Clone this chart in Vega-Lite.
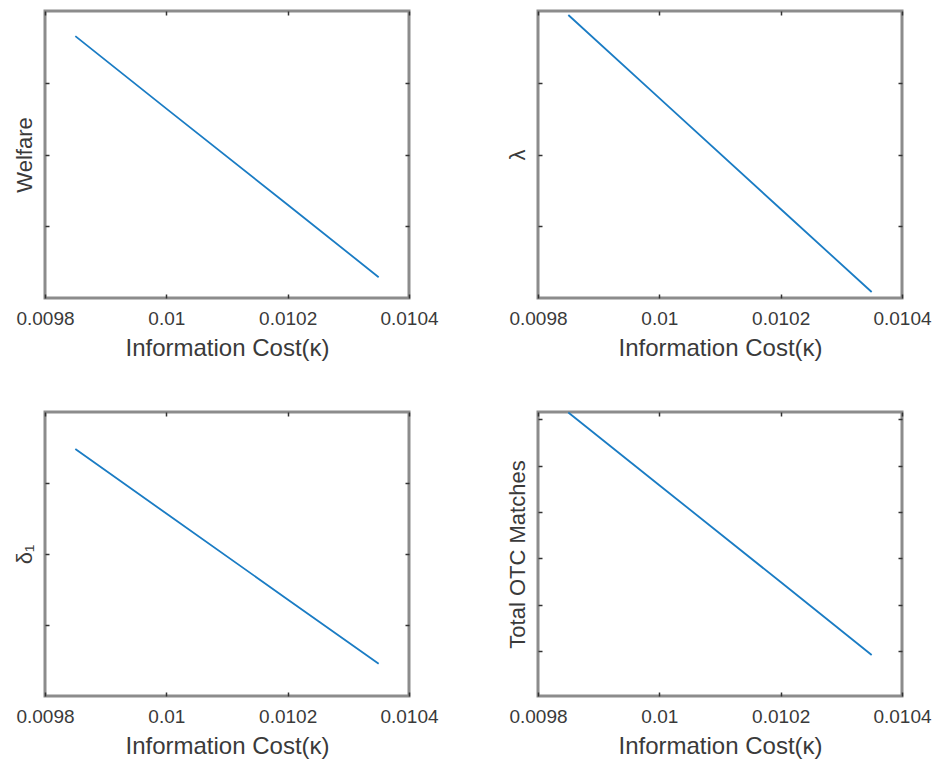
{
  "$schema": "https://vega.github.io/schema/vega-lite/v6.json",
  "padding": {"left": 11, "top": 8, "right": 5, "bottom": 5},
  "background": "white",
  "config": {
    "font": "Liberation Sans",
    "view": {"stroke": "#8c8c8c", "strokeWidth": 3},
    "axis": {
      "domain": false, "grid": false, "ticks": true, "tickSize": -4, "tickColor": "#333333", "tickWidth": 1.5,
      "labelFontSize": 19, "labelColor": "#3a3a3a", "labelPadding": 15, "labelFlush": false, "labelOverlap": false,
      "titleFontSize": 24, "titleFontWeight": "normal", "titleColor": "#3a3a3a", "titlePadding": 8
    },
    "axisY": {"titleFontSize": 22, "titlePadding": 8},
    "line": {"color": "#1a7cc4", "strokeWidth": 1.8}
  },
  "datasets": {
    "welfare": [
      {"x": 0.00985, "y": 3.65}, {"x": 0.0100, "y": 2.64}, {"x": 0.0102, "y": 1.30}, {"x": 0.01035, "y": 0.29}
    ],
    "lambda": [
      {"x": 0.00985, "y": 3.944}, {"x": 0.0100, "y": 2.786}, {"x": 0.0102, "y": 1.24}, {"x": 0.01035, "y": 0.084}
    ],
    "delta": [
      {"x": 0.00985, "y": 3.48}, {"x": 0.0100, "y": 2.57}, {"x": 0.0102, "y": 1.36}, {"x": 0.01035, "y": 0.455}
    ],
    "otc": [
      {"x": 0.00985, "y": 6.15}, {"x": 0.0100, "y": 4.58}, {"x": 0.0102, "y": 2.49}, {"x": 0.01035, "y": 0.915}
    ]
  },
  "columns": 2,
  "bounds": "flush",
  "spacing": {"row": 114, "column": 129},
  "concat": [
    {
      "width": 364, "height": 287,
      "data": {"name": "welfare"},
      "layer": [
        {"mark": {"type": "line"}, "encoding": {
          "x": {"field": "x", "type": "quantitative", "scale": {"domain": [0.0098, 0.0104], "nice": false, "zero": false}, "axis": {"values": [0.0098, 0.01, 0.0102, 0.0104], "format": "~f", "title": "Information Cost(κ)"}},
          "y": {"field": "y", "type": "quantitative", "scale": {"domain": [0, 4], "nice": false, "zero": false}, "axis": {"values": [1, 2, 3], "labels": false, "title": "Welfare"}}
        }},
        {"mark": {"type": "line", "opacity": 0}, "encoding": {
          "x": {"field": "x", "type": "quantitative", "axis": {"orient": "top", "values": [0.0098, 0.01, 0.0102, 0.0104], "labels": false, "title": null}},
          "y": {"field": "y", "type": "quantitative", "axis": {"orient": "right", "values": [1, 2, 3], "labels": false, "title": null}}
        }}
      ],
      "resolve": {"axis": {"x": "independent", "y": "independent"}}
    },
    {
      "width": 364, "height": 287,
      "data": {"name": "lambda"},
      "layer": [
        {"mark": {"type": "line"}, "encoding": {
          "x": {"field": "x", "type": "quantitative", "scale": {"domain": [0.0098, 0.0104], "nice": false, "zero": false}, "axis": {"values": [0.0098, 0.01, 0.0102, 0.0104], "format": "~f", "title": "Information Cost(κ)"}},
          "y": {"field": "y", "type": "quantitative", "scale": {"domain": [0, 4], "nice": false, "zero": false}, "axis": {"values": [1, 2, 3], "labels": false, "title": "λ"}}
        }},
        {"mark": {"type": "line", "opacity": 0}, "encoding": {
          "x": {"field": "x", "type": "quantitative", "axis": {"orient": "top", "values": [0.0098, 0.01, 0.0102, 0.0104], "labels": false, "title": null}},
          "y": {"field": "y", "type": "quantitative", "axis": {"orient": "right", "values": [1, 2, 3], "labels": false, "title": null}}
        }}
      ],
      "resolve": {"axis": {"x": "independent", "y": "independent"}}
    },
    {
      "width": 364, "height": 284,
      "data": {"name": "delta"},
      "layer": [
        {"mark": {"type": "line"}, "encoding": {
          "x": {"field": "x", "type": "quantitative", "scale": {"domain": [0.0098, 0.0104], "nice": false, "zero": false}, "axis": {"values": [0.0098, 0.01, 0.0102, 0.0104], "format": "~f", "title": "Information Cost(κ)"}},
          "y": {"field": "y", "type": "quantitative", "scale": {"domain": [0, 4], "nice": false, "zero": false}, "axis": {"values": [1, 2, 3], "labels": false, "title": "δ₁"}}
        }},
        {"mark": {"type": "line", "opacity": 0}, "encoding": {
          "x": {"field": "x", "type": "quantitative", "axis": {"orient": "top", "values": [0.0098, 0.01, 0.0102, 0.0104], "labels": false, "title": null}},
          "y": {"field": "y", "type": "quantitative", "axis": {"orient": "right", "values": [1, 2, 3], "labels": false, "title": null}}
        }}
      ],
      "resolve": {"axis": {"x": "independent", "y": "independent"}}
    },
    {
      "width": 364, "height": 284,
      "data": {"name": "otc"},
      "layer": [
        {"mark": {"type": "line"}, "encoding": {
          "x": {"field": "x", "type": "quantitative", "scale": {"domain": [0.0098, 0.0104], "nice": false, "zero": false}, "axis": {"values": [0.0098, 0.01, 0.0102, 0.0104], "format": "~f", "title": "Information Cost(κ)"}},
          "y": {"field": "y", "type": "quantitative", "scale": {"domain": [0.03, 6.16], "nice": false, "zero": false}, "axis": {"values": [1, 2, 3, 4, 5, 6], "labels": false, "title": "Total OTC Matches"}}
        }},
        {"mark": {"type": "line", "opacity": 0}, "encoding": {
          "x": {"field": "x", "type": "quantitative", "axis": {"orient": "top", "values": [0.0098, 0.01, 0.0102, 0.0104], "labels": false, "title": null}},
          "y": {"field": "y", "type": "quantitative", "axis": {"orient": "right", "values": [1, 2, 3, 4, 5, 6], "labels": false, "title": null}}
        }}
      ],
      "resolve": {"axis": {"x": "independent", "y": "independent"}}
    }
  ]
}
